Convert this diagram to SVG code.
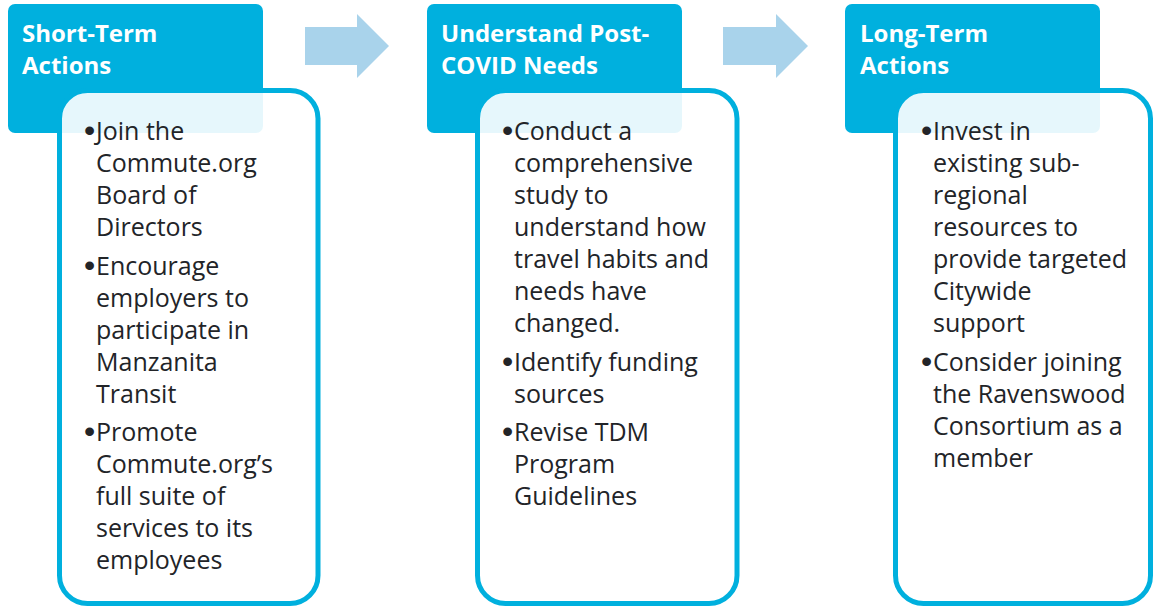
<svg xmlns="http://www.w3.org/2000/svg" width="1153" height="607" viewBox="0 0 1153 607">
<style>
.hdr{fill:#00B0DE}
.body{fill:#FFFFFF;fill-opacity:0.9;stroke:#00B0DE;stroke-width:5}
.arrow{fill:#A9D3EB}
.ht{font-family:"Open Sans","Noto Sans",sans-serif;font-weight:bold;font-size:24px;fill:#FFFFFF}
.bt{font-family:"Open Sans","Noto Sans",sans-serif;font-size:25px;fill:#222428}
.b{font-family:"Liberation Sans",Arial,sans-serif;font-size:32px}
</style>
<rect width="1153" height="607" fill="#FFFFFF"/>
<g id="connectors">
<path class="arrow" d="M305,27 H357 V14 L389,46 L357,78 V65 H305 Z"/>
<path class="arrow" d="M723,27 H776 V14 L808,46 L776,78 V65 H723 Z"/>
</g>
<g id="node-short-term">
<rect class="hdr" x="8" y="4" width="255" height="129" rx="7"/>
<text class="ht" x="22" y="42">Short-Term</text>
<text class="ht" x="22" y="74">Actions</text>
<rect class="body" x="59.5" y="90.5" width="258.5" height="513" rx="28"/>
<text class="bt"><tspan class="b" x="84" y="141">•</tspan><tspan x="96" y="140">Join the</tspan><tspan x="96" y="172">Commute.org</tspan><tspan x="96" y="204">Board of</tspan><tspan x="96" y="236">Directors</tspan><tspan class="b" x="84" y="276">•</tspan><tspan x="96" y="275">Encourage</tspan><tspan x="96" y="307">employers to</tspan><tspan x="96" y="339">participate in</tspan><tspan x="96" y="371">Manzanita</tspan><tspan x="96" y="403">Transit</tspan><tspan class="b" x="84" y="442">•</tspan><tspan x="96" y="441">Promote</tspan><tspan x="96" y="473">Commute.org’s</tspan><tspan x="96" y="505">full suite of</tspan><tspan x="96" y="537">services to its</tspan><tspan x="96" y="569">employees</tspan></text>
</g>
<g id="node-post-covid">
<rect class="hdr" x="427" y="4" width="255" height="129" rx="7"/>
<text class="ht" x="441" y="42">Understand Post-</text>
<text class="ht" x="441" y="74">COVID Needs</text>
<rect class="body" x="477.5" y="90.5" width="259.5" height="513" rx="28"/>
<text class="bt"><tspan class="b" x="502" y="141">•</tspan><tspan x="514" y="140">Conduct a</tspan><tspan x="514" y="172">comprehensive</tspan><tspan x="514" y="204">study to</tspan><tspan x="514" y="236">understand how</tspan><tspan x="514" y="268">travel habits and</tspan><tspan x="514" y="300">needs have</tspan><tspan x="514" y="332">changed.</tspan><tspan class="b" x="502" y="372">•</tspan><tspan x="514" y="371">Identify funding</tspan><tspan x="514" y="403">sources</tspan><tspan class="b" x="502" y="442">•</tspan><tspan x="514" y="441">Revise TDM</tspan><tspan x="514" y="473">Program</tspan><tspan x="514" y="505">Guidelines</tspan></text>
</g>
<g id="node-long-term">
<rect class="hdr" x="845" y="4" width="255" height="129" rx="7"/>
<text class="ht" x="860" y="42">Long-Term</text>
<text class="ht" x="860" y="74">Actions</text>
<rect class="body" x="895.5" y="90.5" width="255" height="513" rx="28"/>
<text class="bt"><tspan class="b" x="921" y="141">•</tspan><tspan x="933" y="140">Invest in</tspan><tspan x="933" y="172">existing sub-</tspan><tspan x="933" y="204">regional</tspan><tspan x="933" y="236">resources to</tspan><tspan x="933" y="268">provide targeted</tspan><tspan x="933" y="300">Citywide</tspan><tspan x="933" y="332">support</tspan><tspan class="b" x="921" y="372">•</tspan><tspan x="933" y="371">Consider joining</tspan><tspan x="933" y="403">the Ravenswood</tspan><tspan x="933" y="435">Consortium as a</tspan><tspan x="933" y="467">member</tspan></text>
</g>
</svg>
